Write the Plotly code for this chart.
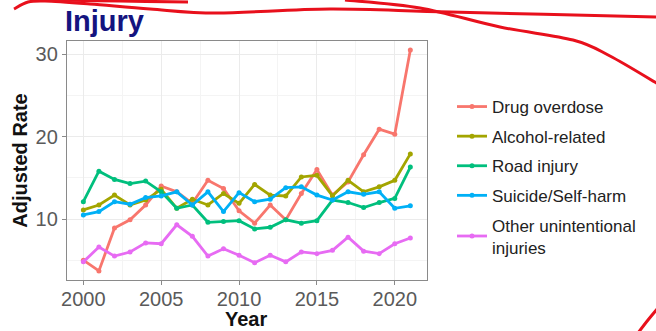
import plotly.graph_objects as go

# Age-adjusted injury death rates by cause
years = list(range(2000, 2022))

drug_overdose = [5.0, 3.7, 8.9, 9.9, 11.7, 14.0, 13.3, 11.9, 14.7, 13.7, 11.0, 9.5,
                 11.7, 9.9, 13.1, 16.0, 12.9, 14.5, 17.8, 20.9, 20.3, 30.5]
alcohol_related = [11.1, 11.7, 12.9, 11.7, 12.3, 13.6, 11.3, 12.4, 11.7, 13.1, 11.9, 14.2,
                   12.9, 12.8, 15.1, 15.3, 12.8, 14.7, 13.3, 13.9, 14.7, 17.9]
road_injury = [12.1, 15.8, 14.8, 14.3, 14.6, 13.3, 11.3, 11.7, 9.6, 9.7, 9.8, 8.8,
               9.0, 9.9, 9.5, 9.8, 12.3, 12.0, 11.4, 12.0, 12.5, 16.3]
suicide_self_harm = [10.5, 10.9, 12.1, 11.8, 12.6, 12.8, 13.3, 11.7, 13.3, 10.9, 13.2, 12.1,
                     12.4, 13.8, 13.9, 12.9, 12.3, 13.3, 13.0, 13.3, 11.3, 11.6]
other_unintentional = [4.8, 6.6, 5.5, 6.0, 7.1, 7.0, 9.3, 7.9, 5.5, 6.4, 5.6, 4.7,
                       5.6, 4.8, 6.0, 5.8, 6.2, 7.8, 6.1, 5.8, 7.0, 7.7]

series_names = ["Drug overdose", "Alcohol-related", "Road injury", "Suicide/Self-harm",
                "Other unintentional<br>injuries"]
series_values = [drug_overdose, alcohol_related, road_injury, suicide_self_harm,
                 other_unintentional]
series_colors = ["#F8766D", "#A3A500", "#00BF7D", "#00B0F6", "#E76BF3"]

x_ticks = [2000, 2005, 2010, 2015, 2020]
y_ticks = [10, 20, 30]

W, H = 656, 331
M_L, M_R, M_T, M_B = 67, 229, 41, 51
PW, PH = W - M_L - M_R, H - M_T - M_B

fig = go.Figure()
for i, (name, vals, col) in enumerate(zip(series_names, series_values, series_colors)):
    fig.add_trace(go.Scatter(
        x=years, y=vals, name=name, mode="lines+markers",
        line=dict(color=col, width=2.8),
        marker=dict(color=col, size=5),
        legendgroup=f"g{i}",
    ))


def px_to_paper(p):
    return ((p[0] - M_L) / PW, (H - M_B - p[1]) / PH)


def smooth_path(points):
    # Catmull-Rom spline through the points, written as cubic Bezier segments
    pts = [px_to_paper(p) for p in points]
    d = f"M {pts[0][0]:.4f},{pts[0][1]:.4f}"
    for k in range(len(pts) - 1):
        p0 = pts[k - 1] if k > 0 else pts[k]
        p1, p2 = pts[k], pts[k + 1]
        p3 = pts[k + 2] if k + 2 < len(pts) else pts[k + 1]
        c1 = (p1[0] + (p2[0] - p0[0]) / 6, p1[1] + (p2[1] - p0[1]) / 6)
        c2 = (p2[0] - (p3[0] - p1[0]) / 6, p2[1] - (p3[1] - p1[1]) / 6)
        d += (f" C {c1[0]:.4f},{c1[1]:.4f} {c2[0]:.4f},{c2[1]:.4f} "
              f"{p2[0]:.4f},{p2[1]:.4f}")
    return d


# Hand-drawn red pen strokes around the figure
strokes = [
    [(14, 9), (28, 2), (45, 1), (90, 4), (150, 9), (217, 13), (330, 9), (450, 12), (656, 17)],
    [(55, 0), (120, 1), (188, 2)],
    [(345, 0), (420, 8), (500, 27), (573, 40), (610, 56), (658, 84)],
    [(638, 333), (648, 320), (658, 308)],
]
shapes = [dict(type="path", xref="paper", yref="paper", path=smooth_path(s),
               line=dict(color="#E8101C", width=3), layer="above") for s in strokes]

axis_common = dict(
    showline=True, mirror=True, linecolor="#8a8a8a", linewidth=1.3,
    ticks="outside", ticklen=4, tickwidth=1.3, tickcolor="#8a8a8a",
    showgrid=True, gridcolor="#EBEBEB", gridwidth=1.1, zeroline=False,
    automargin=False,
    tickfont=dict(family="Liberation Sans, Arial, sans-serif", size=20, color="#5a5a5a"),
)

fig.update_layout(
    width=W, height=H,
    margin=dict(l=M_L, r=M_R, t=M_T, b=M_B),
    paper_bgcolor="white", plot_bgcolor="white",
    font=dict(family="Liberation Sans, Arial, sans-serif"),
    title=dict(text="<b>Injury</b>", x=65 / W, xanchor="left", y=1 - 21 / H, yanchor="middle",
               font=dict(size=29, color="#14147F"), automargin=False),
    xaxis=dict(**axis_common, range=[1998.95, 2022.07], tickvals=x_ticks,
               ticklabelstandoff=-3,
               minor=dict(dtick=2.5, tick0=2000, showgrid=True, gridcolor="#F4F4F4", ticks="")),
    yaxis=dict(**axis_common, range=[2.6, 31.6], tickvals=y_ticks,
               minor=dict(dtick=5, tick0=0, showgrid=True, gridcolor="#F4F4F4", ticks=""),
               title=dict(text="<b>Adjusted Rate</b>", standoff=2,
                          font=dict(size=20, color="#111111"))),
    legend=dict(x=(452 - M_L) / PW, xanchor="left", y=(H - M_B - 89) / PH, yanchor="top",
                font=dict(size=17, color="#222222"), tracegroupgap=4.5,
                bgcolor="rgba(0,0,0,0)", itemwidth=30),
    annotations=[dict(text="<b>Year</b>", xref="paper", yref="paper",
                      x=(246 - M_L) / PW, y=(H - M_B - 319) / PH,
                      xanchor="center", yanchor="middle", showarrow=False,
                      font=dict(size=20, color="#111111"))],
    shapes=shapes,
)

fig.write_html("out.html")
